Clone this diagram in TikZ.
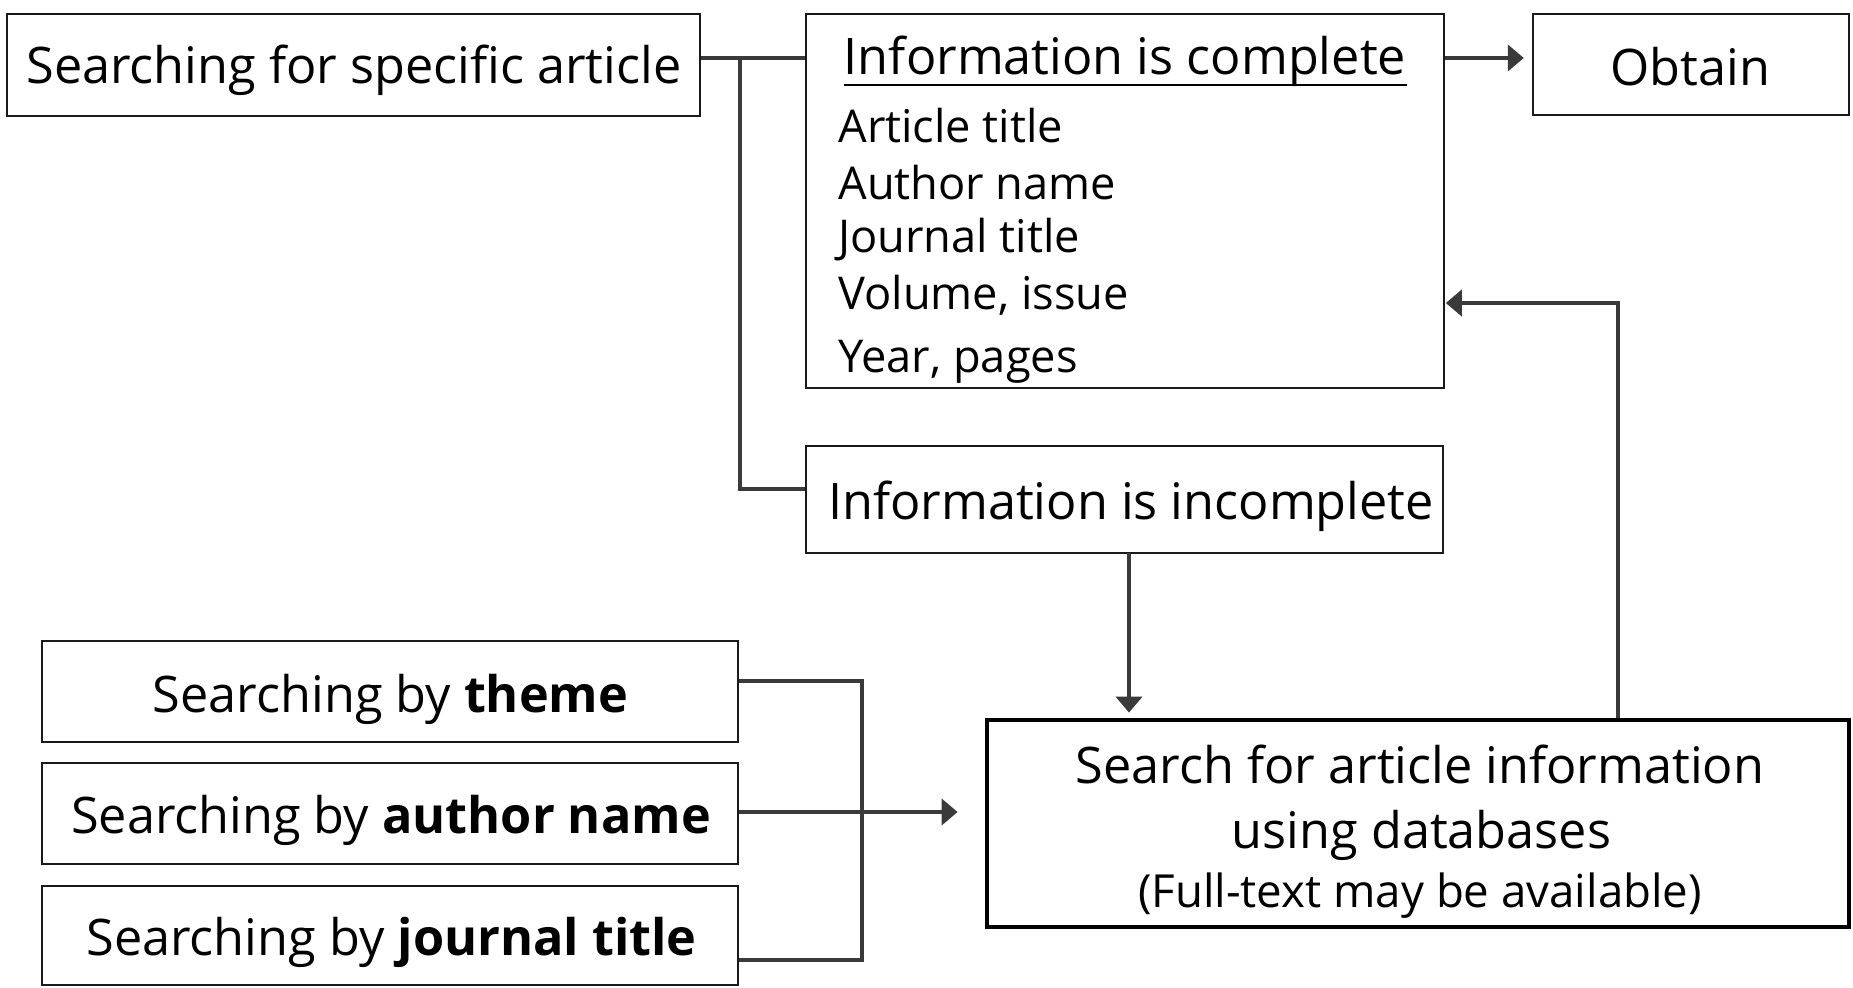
\documentclass[tikz,border=0pt]{standalone}
\usepackage{fontspec}
\setmainfont{Open Sans}
\usetikzlibrary{arrows.meta}
\definecolor{lineg}{HTML}{3A3A3A}
\definecolor{boxk}{HTML}{1A1A1A}
\begin{document}
\begin{tikzpicture}[x=0.5pt,y=-0.5pt,
  box/.style={draw=boxk, line width=1.2pt, inner sep=0pt, fill=none},
  bigbox/.style={draw=black, line width=2.4pt, inner sep=0pt},
  lbl/.style={inner sep=0pt, anchor=base, font=\fontsize{25.2}{30}\selectfont},
  lst/.style={inner sep=0pt, anchor=base west, font=\fontsize{22.6}{28}\selectfont},
  sml/.style={inner sep=0pt, anchor=base, font=\fontsize{22.8}{28}\selectfont},
  conn/.style={draw=lineg, line width=2.1pt},
  arr/.style={draw=lineg, line width=2.1pt, -{Triangle[length=8pt,width=13pt]}}]
\fill[white] (0,0) rectangle (1853,987);
\useasboundingbox (0,0) rectangle (1853,987);

% boxes
\node[box, minimum width=346.5pt, minimum height=51pt] (A) at (353.5,65) {};
\node[box, minimum width=319pt, minimum height=187pt] (B) at (1125,201) {};
\node[box, minimum width=158pt, minimum height=50.5pt] (C) at (1691,64.5) {};
\node[box, minimum width=318.5pt, minimum height=53.5pt] (D) at (1124.5,499.5) {};
\node[bigbox, minimum width=431pt, minimum height=103.5pt] (E) at (1418,823.5) {};
\node[box, minimum width=348pt, minimum height=50.5pt] (T1) at (390,691.5) {};
\node[box, minimum width=348pt, minimum height=50.5pt] (T2) at (390,813.5) {};
\node[box, minimum width=348pt, minimum height=49.5pt] (T3) at (390,935.5) {};

% labels
\node[lbl] (lA) at (354,83) {Searching for specific article};
\node[lbl] (lC) at (1690.5,85) {Obtain};
\node[lbl] (lD) at (1131,519) {Information is incomplete};
\node[lbl] (lT1) at (390.5,712) {Searching by \textbf{theme}};
\node[lbl] (lT2) at (391,833) {Searching by \textbf{author name}};
\node[lbl] (lT3) at (391.5,955) {Searching by \textbf{journal title}};
\node[lbl] (lE1) at (1420,783) {Search for article information};
\node[lbl] (lE2) at (1421.5,848) {using databases};
\node[sml] (lE3) at (1420,907) {(Full-text may be available)};

\node[lbl] (b0) at (1125,74) {Information is complete};
\draw[black, line width=1.3pt] ([yshift=-5.5pt]b0.base west) -- ([yshift=-5.5pt]b0.base east);
\node[lst] (b1) at (838,142) {Article title};
\node[lst] (b2) at (838,199.5) {Author name};
\node[lst] (b3) at (838,252) {Journal title};
\node[lst] (b4) at (838,309.5) {Volume, issue};
\node[lst] (b5) at (838,372) {Year, pages};

% connectors
\coordinate (j1) at (740,58);
\coordinate (j2) at (740,489);
\draw[conn] (A.east |- j1) -- (B.west |- j1);
\draw[conn] (j1) -- (j2) -- (D.west |- j2);
\draw[arr, shorten >=4pt] (B.east |- j1) -- (C.west |- j1);

\coordinate (k1) at (1129,553);
\draw[arr, shorten >=2.5pt] (k1) -- (k1 |- E.north);

\coordinate (k2) at (1618,303);
\draw[arr, shorten >=0.3pt] (E.north -| k2) -- (k2) -- (B.east |- k2);

\coordinate (m1) at (862,681);
\coordinate (m3) at (862,960);
\coordinate (m2) at (960,812);
\draw[conn] (T1.east |- m1) -- (m1) -- (m3) -- (T3.east |- m3);
\draw[arr, shorten >=13.5pt] (T2.east |- m2) -- (E.west |- m2);
\end{tikzpicture}
\end{document}
